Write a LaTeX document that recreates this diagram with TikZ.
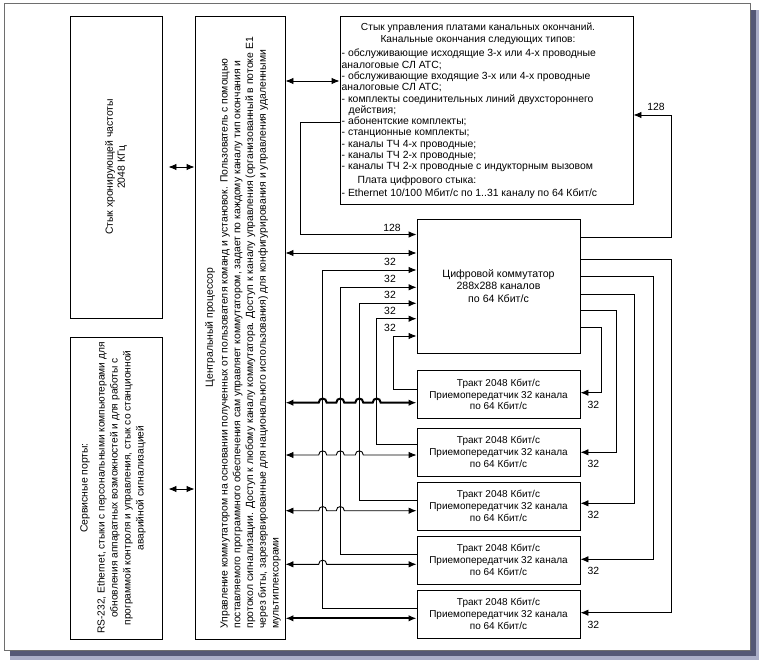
\documentclass[tikz,border=0pt]{standalone}
\usepackage{fontspec}
\setmainfont{Liberation Sans}
\usetikzlibrary{arrows.meta}
\definecolor{shadowgray}{RGB}{84,88,118}
\definecolor{shadowlight}{RGB}{170,174,200}
\definecolor{framegray}{RGB}{110,110,110}
\tikzset{
	box/.style={draw,line width=0.9pt,inner sep=1pt},
	conn/.style={line width=0.9pt,-{Latex[length=8pt,width=6.5pt]}},
	dbl/.style={line width=0.9pt,{Latex[length=8pt,width=6.5pt]}-{Latex[length=8pt,width=6.5pt]}},
	bold/.style={line width=2pt},
	lbl/.style={inner sep=0pt}
}
\begin{document}
\begin{tikzpicture}[x=1pt,y=-1pt,font=\fontsize{10.4}{12}\selectfont]
	\useasboundingbox (0,0) rectangle (762,663);
	\fill[shadowlight] (10,10) rectangle (759,660);% shadow
	\fill[shadowgray] (10,10) rectangle (756,656);
	\draw[framegray,fill=white,line width=0.8pt] (4,3) rectangle (750,650);% frame

		\node[box,minimum width=92pt,minimum height=302pt] (clk) at (116,167) {};
		\node[box,minimum width=92pt,minimum height=302pt] (srv) at (116,488) {};
		\node[rotate=90,align=center] (clktxt) at (clk.center) {Стык хронирующей частоты\\2048 КГц};
		\node[rotate=90] (srvhead) at (85,488) {Сервисные порты:};
		\node[rotate=90,align=center,font=\fontsize{10.2}{13}\selectfont] (srvtxt) at (121.5,488) {RS-232, Ethernet, стыки с персональными компьютерами для\\обновления аппаратных возможностей и для работы с\\программой контроля и управления, стык со станционной\\аварийной сигнализацией};

		\node[box,minimum width=90pt,minimum height=623pt] (cpu) at (240,327.5) {};
		\node[rotate=90] (cpuhead) at (210,327.5) {Центральный процессор};
		\node[rotate=90,anchor=west,align=left,font=\fontsize{10.4}{12.75}\selectfont] (cputxt) at (250.5,632) {Управление коммутатором на основании полученных от пользователя команд и установок. Пользователь с помощью\\поставляемого программного обеспечения сам управляет коммутатором, задает по каждому каналу тип окончания и\\протокол сигнализации. Доступ к любому каналу коммутатора. Доступ к каналу управления (организованный в потоке E1\\через биты, зарезервированные для национального использования) для конфигурирования и управления удаленными\\мультиплексорами};

		\node[box,minimum width=293pt,minimum height=188pt] (ctl) at (486.5,110) {};
		\node[align=center,font=\fontsize{10.2}{12}\selectfont] (ctlhead) at (478,33.3) {Стык управления платами канальных окончаний.\\Канальные окончания следующих типов:};
		\node[anchor=north west,inner sep=0pt,align=left,font=\fontsize{10.4}{11.3}\selectfont] (ctltxt) at (341.5,49) {- обслуживающие исходящие 3-х или 4-х проводные\\аналоговые СЛ АТС;\\- обслуживающие входящие 3-х или 4-х проводные\\аналоговые СЛ АТС;\\- комплекты соединительных линий двухстороннего\\\hspace*{7pt}действия;\\- абонентские комплекты;\\- станционные комплекты;\\- каналы ТЧ 4-х проводные;\\- каналы ТЧ 2-х проводные;\\- каналы ТЧ 2-х проводные с индукторным вызовом\\[2pt]\hspace*{16pt}Плата цифрового стыка:\\[2pt]- Ethernet 10/100 Мбит/с по 1..31 каналу по 64 Кбит/с};

		\node[box,minimum width=163pt,minimum height=134pt,align=center,font=\fontsize{10.6}{12.5}\selectfont] (sw) at (498.5,286) {Цифровой коммутатор\\288x288 каналов\\по 64 Кбит/с};

		\foreach \i/\y in {1/394.5,2/452,3/506,4/560,5/614}
			\node[box,minimum width=163pt,minimum height=48pt,align=center,font=\fontsize{10}{11.7}\selectfont] (tr\i) at (498.5,\y) {Тракт 2048 Кбит/с\\Приемопередатчик 32 канала\\по 64 Кбит/с};

		% processor links
		\draw[dbl,shorten <=6pt] (clk.east |- 0,167) -- (cpu.west |- 0,167);
		\draw[dbl,shorten <=6pt] (srv.east |- 0,489) -- (cpu.west |- 0,489);
		\draw[dbl] (cpu.east |- 0,81) -- (ctl.west |- 0,81);
		\draw[dbl] (cpu.east |- 0,253) -- (sw.west |- 0,253);

		% 128 channels to and from the interface board
		\draw[conn] (ctl.west |- 0,122) -| (300.7,234.5) -- (sw.west |- 0,234.5);
		\node[lbl] (lctl) at (392,228) {128};
		\draw[conn] (sw.east |- 0,237.3) -| (671,115) -- (ctl.east |- 0,115);
		\node[lbl] (lsw) at (656,107) {128};

		% tracts into the switch
		\foreach \i/\yin/\xv/\yt in {1/336/393.3/389,2/318.7/376.7/444,3/303.3/359.3/500,4/287.3/340.3/554,5/270/322.7/608}{
			\draw[conn] (tr\i.west |- 0,\yt) -| (\xv,\yin) -- (sw.west |- 0,\yin);
			\node[lbl] (lin\i) at (390,\yin-8) {32};
		}

		% switch out to the tracts
		\foreach \i/\yo/\xv/\yt in {1/327.3/601.3/392.7,2/310.7/616/452.3,3/294/634/503.3,4/276.7/653.3/559.3,5/259.3/671/612.7}{
			\draw[conn] (sw.east |- 0,\yo) -| (\xv,\yt) -- (tr\i.east |- 0,\yt);
			\node[lbl] (lout\i) at (593.3,\yt+12) {32};
		}

		% processor to the tracts, hopping over the feedback lines
		\draw[dbl,bold] (cpu.east |- 0,402.7) \foreach \hx in {322.7,340.3,359.3,376.7}{ -- (\hx-4,402.7) .. controls (\hx-4,397.2) and (\hx+4,397.2) .. (\hx+4,402.7)} -- (tr1.west |- 0,402.7);
		\draw[dbl] (cpu.east |- 0,455) \foreach \hx in {322.7,340.3,359.3}{ -- (\hx-4,455) .. controls (\hx-4,449.5) and (\hx+4,449.5) .. (\hx+4,455)} -- (tr2.west |- 0,455);
		\draw[dbl] (cpu.east |- 0,510.7) \foreach \hx in {322.7,340.3}{ -- (\hx-4,510.7) .. controls (\hx-4,505.2) and (\hx+4,505.2) .. (\hx+4,510.7)} -- (tr3.west |- 0,510.7);
		\draw[dbl] (cpu.east |- 0,564.3) -- (318.7,564.3) .. controls (318.7,558.8) and (326.7,558.8) .. (326.7,564.3) -- (tr4.west |- 0,564.3);
		\draw[dbl,bold] (cpu.east |- 0,618.3) -- (tr5.west |- 0,618.3);
\end{tikzpicture}
\end{document}
